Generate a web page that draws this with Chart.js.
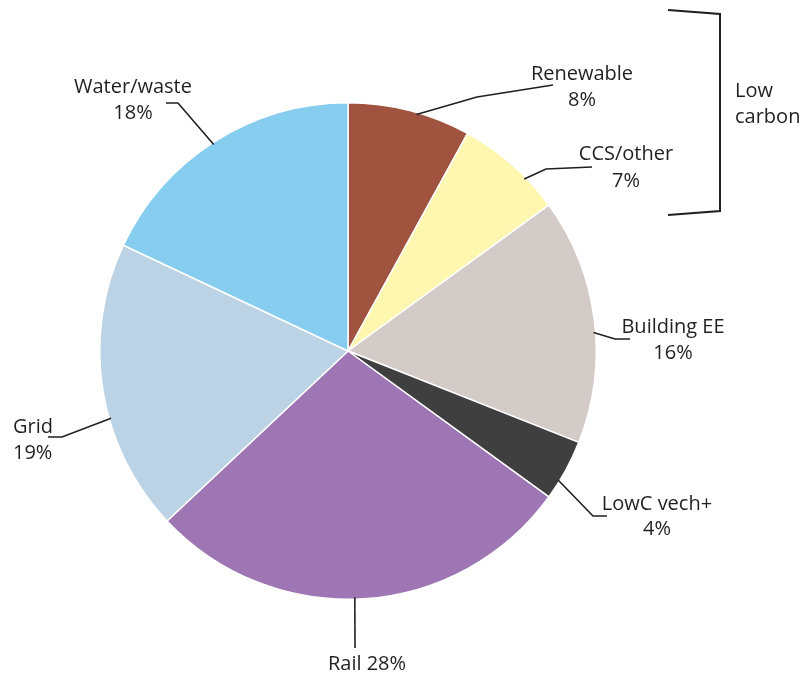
<!DOCTYPE html>
<html>
<head>
<meta charset="utf-8">
<script src="https://cdn.jsdelivr.net/npm/chart.js@4.4.1/dist/chart.umd.min.js"></script>
<style>
  html, body { margin: 0; padding: 0; background: #fff; }
  #wrap { width: 803px; height: 673px; position: relative; }
</style>
</head>
<body>
<div id="wrap"><canvas id="chart-pie"></canvas></div>
<script>
// Spending shares, clockwise from 12 o'clock
const categories = ['Renewable', 'CCS/other', 'Building EE', 'LowC vech+', 'Rail', 'Grid', 'Water/waste'];
const shares     = [8, 7, 16, 4, 28, 19, 18];
const sliceColors = ['#A0533F', '#FFF7B0', '#D3CBC7', '#3F3F3F', '#9E76B4', '#BBD3E4', '#86CDEF'];

// Label layout: where along each slice the leader starts (0..1), elbow + end of leader, text lines
const labelLayout = [
  { t: 0.56, elbow: [477, 97],  end: [553, 85],  align: 'center', x: 582, lines: [[80, 'Renewable'], [106, '{v}%']] },
  { t: 0.67, elbow: [546, 169], end: [592, 167], align: 'center', x: 626, lines: [[160, 'CCS/other'], [187, '{v}%']] },
  { t: 0.55, elbow: [615, 339], end: [630, 339], align: 'center', x: 673, lines: [[333, 'Building EE'], [359, '{v}%']] },
  { t: 0.69, elbow: [593, 516], end: [607, 516], align: 'center', x: 657, lines: [[510, 'LowC vech+'], [535, '{v}%']] },
  { t: 0.52, elbow: [355, 648], end: [355, 648], align: 'center', x: 367, lines: [[670, 'Rail {v}%']] },
  { t: 0.40, elbow: [62, 437],  end: [48, 437],  align: 'left',   x: 13,  lines: [[433, 'Grid'], [459, '{v}%']] },
  { t: 0.49, elbow: [178, 103], end: [166, 103], align: 'center', x: 133, lines: [[93, 'Water/waste'], [119, '{v}%']] },
];

const FONT = "20px 'Open Sans', 'DejaVu Sans', sans-serif";
const INK = '#231F20';

// Leader lines, slice labels and the "Low carbon" bracket
const pieLabels = {
  id: 'pieLabels',
  afterDraw(chart) {
    const ctx = chart.ctx;
    const arcs = chart.getDatasetMeta(0).data;
    ctx.save();
    ctx.strokeStyle = INK;
    ctx.lineWidth = 1.6;
    ctx.fillStyle = INK;
    ctx.font = FONT;
    ctx.textBaseline = 'alphabetic';

    arcs.forEach((arc, i) => {
      const L = labelLayout[i];
      const { x, y, startAngle, endAngle, outerRadius } = arc.getProps(['x', 'y', 'startAngle', 'endAngle', 'outerRadius'], true);
      const a = startAngle + (endAngle - startAngle) * L.t;
      const sx = x + Math.cos(a) * (outerRadius - 2);
      const sy = y + Math.sin(a) * (outerRadius - 2);
      ctx.beginPath();
      ctx.moveTo(sx, sy);
      ctx.lineTo(L.elbow[0], L.elbow[1]);
      ctx.lineTo(L.end[0], L.end[1]);
      ctx.stroke();

      ctx.textAlign = L.align;
      L.lines.forEach(([by, txt]) => {
        ctx.fillText(txt.replace('{v}', shares[i]), L.x, by);
      });
    });

    // Bracket grouping the low-carbon slices
    ctx.lineWidth = 2;
    ctx.beginPath();
    ctx.moveTo(668, 10);
    ctx.lineTo(720, 14);
    ctx.lineTo(720, 211);
    ctx.lineTo(668, 215);
    ctx.stroke();
    ctx.textAlign = 'left';
    ctx.fillText('Low', 735, 97);
    ctx.fillText('carbon', 735, 123);
    ctx.restore();
  }
};

new Chart(document.getElementById('chart-pie').getContext('2d'), {
  type: 'pie',
  data: {
    labels: categories,
    datasets: [{
      data: shares,
      backgroundColor: sliceColors,
      borderColor: '#FFFFFF',
      borderWidth: 1.5,
    }]
  },
  options: {
    responsive: true,
    maintainAspectRatio: false,
    animation: false,
    layout: { padding: { top: 102, bottom: 73, left: 99, right: 206 } },
    plugins: {
      legend: { display: false },
      tooltip: { enabled: false }
    }
  },
  plugins: [pieLabels]
});
</script>
</body>
</html>
